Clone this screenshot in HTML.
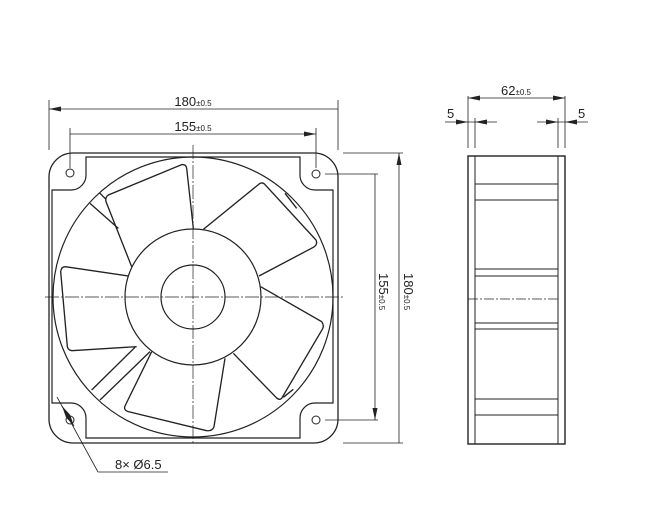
<!DOCTYPE html>
<html><head><meta charset="utf-8"><style>
html,body{margin:0;padding:0;background:#fff;}
svg{display:block;font-family:"Liberation Sans",sans-serif;}
</style></head><body>
<svg width="656" height="507" viewBox="0 0 656 507" xmlns="http://www.w3.org/2000/svg">
<defs>
<marker id="a" viewBox="0 0 12 5" refX="12" refY="2.5" markerWidth="12" markerHeight="5" orient="auto-start-reverse" markerUnits="userSpaceOnUse"><path d="M0,0 L12,2.5 L0,5Z" fill="#222"/></marker>
</defs>
<g stroke="#222" fill="none" stroke-width="1">
<rect x="49" y="153" width="289" height="290" rx="24" stroke-width="1.3"/>
<path d="M86,157 L300,157 L300,174 A15,15 0 0 0 315,190 L333,190 L333,403 L315,403 A15,15 0 0 0 300,418 L300,438 L86,438 L86,418 A15,15 0 0 0 71,403 L52,403 L52,190 L71,190 A15,15 0 0 0 86,174 Z" stroke-width="1.2"/>
<circle cx="70" cy="173" r="4"/><circle cx="316" cy="174" r="4"/><circle cx="70" cy="420" r="4"/><circle cx="316" cy="420" r="4"/>
<circle cx="193" cy="297" r="140" stroke-width="1.2"/>
<circle cx="193" cy="297" r="68" stroke-width="1.2"/>
<circle cx="193" cy="297" r="32" stroke-width="1.2"/>
<g transform="translate(40,140) scale(0.33333)" stroke-width="4">
<path d="M460,265 L440,85 Q438,72 425,74 L205,165 Q195,172 198,185 L275,380"/>
<path d="M490,268 L660,130 Q670,126 676,135 L828,300 Q834,314 820,322 L657,408"/>
<path d="M662,440 L845,545 Q853,556 848,566 L725,775 Q717,782 708,772 L580,640"/>
<path d="M555,655 L522,860 Q517,874 500,872 L265,815 Q250,810 255,798 L335,635"/>
<path d="M290,620 L95,632 Q84,630 82,620 L62,395 Q64,380 76,380 L265,408"/>
<path d="M150,190 L235,265 M178,158 L198,178 M155,750 L285,622 M180,780 L330,635 M735,160 L770,205 M730,772 L760,748"/>
</g>
<path d="M193,145 V445 M45,297 H345" stroke-width="0.7" stroke-dasharray="14,2,2,2"/>
<path d="M49,100 V150 M338,100 V150 M70,128 V168 M316,128 V168" stroke-width="0.8"/>
<path d="M49,109 H338 M70,134 H316" stroke-width="0.8" marker-start="url(#a)" marker-end="url(#a)"/>
<path d="M343,153 H403 M325,174 H378 M325,420 H378 M343,443 H403" stroke-width="0.8"/>
<path d="M399,153 V443 M375,174 V420" stroke-width="0.8" marker-start="url(#a)" marker-end="url(#a)"/>
<path d="M98,472 H168 M98,472 L57,397" stroke-width="0.8"/>
<path d="M62,406 L74,426" stroke-width="0.8" marker-start="url(#a)" marker-end="url(#a)"/>
<rect x="468" y="156" width="97" height="288" stroke-width="1.4"/>
<path d="M475,156 V444 M558,156 V444 M475,184 H558 M475,200 H558 M475,399 H558 M475,415 H558" stroke-width="1"/>
<rect x="475" y="200" width="83" height="69" stroke-width="1"/>
<rect x="475" y="276" width="83" height="47" stroke-width="1"/>
<rect x="475" y="329" width="83" height="70" stroke-width="1"/>
<path d="M468,299 H558" stroke-width="0.7" stroke-dasharray="10,2,2,2"/>
<path d="M468,96 V148 M475,118 V148 M558,118 V148 M565,96 V148" stroke-width="0.8"/>
<path d="M468,98 H565" stroke-width="0.8" marker-start="url(#a)" marker-end="url(#a)"/>
<path d="M445,122 H497 M537,122 H588" stroke-width="0.8"/>
</g>
<g fill="#222">
<path d="M456,119.5 L468,122 L456,124.5Z M487,119.5 L475,122 L487,124.5Z M546,119.5 L558,122 L546,124.5Z M577,119.5 L565,122 L577,124.5Z"/>
</g>
<g fill="#222" font-size="13">
<text x="193" y="106" text-anchor="middle">180<tspan font-size="8">±0.5</tspan></text>
<text x="193" y="131" text-anchor="middle">155<tspan font-size="8">±0.5</tspan></text>
<text x="516" y="95" text-anchor="middle">62<tspan font-size="8">±0.5</tspan></text>
<text x="447" y="118">5</text>
<text x="578" y="118">5</text>
<text x="115" y="469">8× Ø6.5</text>
<text transform="translate(379,273) rotate(90)">155<tspan font-size="8">±0.5</tspan></text>
<text transform="translate(404,273) rotate(90)">180<tspan font-size="8">±0.5</tspan></text>
</g>
</svg>
</body></html>
